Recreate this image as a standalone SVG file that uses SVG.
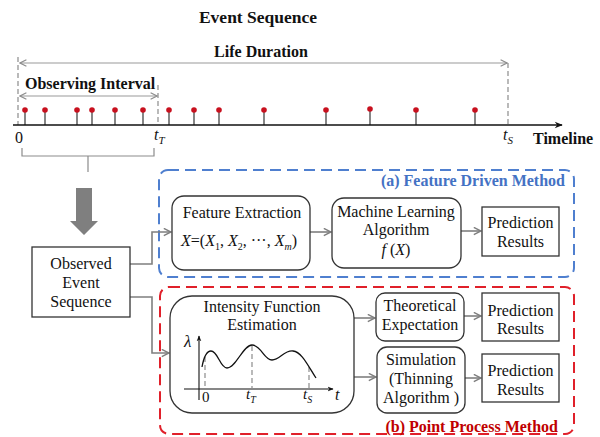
<svg xmlns="http://www.w3.org/2000/svg" width="600" height="437" viewBox="0 0 600 437">
  <defs>
    <marker id="chev" viewBox="0 0 10 10" refX="9" refY="5" markerWidth="8" markerHeight="8" markerUnits="userSpaceOnUse" orient="auto-start-reverse">
      <path d="M1,1 L9,5 L1,9" fill="none" stroke="#8c8c8c" stroke-width="1.4"/>
    </marker>
    <marker id="gch" viewBox="0 0 10 10" refX="9" refY="5" markerWidth="9" markerHeight="9" markerUnits="userSpaceOnUse" orient="auto">
      <path d="M1,1 L9,5 L1,9" fill="none" stroke="#7f7f7f" stroke-width="1.6"/>
    </marker>
    <marker id="blk" viewBox="0 0 10 10" refX="9" refY="5" markerWidth="9" markerHeight="8" markerUnits="userSpaceOnUse" orient="auto">
      <path d="M0,1 L10,5 L0,9 L3,5 Z" fill="#111"/>
    </marker>
    <marker id="blks" viewBox="0 0 10 10" refX="9" refY="5" markerWidth="6" markerHeight="6" markerUnits="userSpaceOnUse" orient="auto">
      <path d="M0,1 L10,5 L0,9 L3,5 Z" fill="#111"/>
    </marker>
  </defs>
  <style>
    text { font-family: "Liberation Serif", "Times New Roman", serif; fill: #111; }
    .b { font-weight: bold; font-size: 16px; }
    .t { font-size: 16px; text-anchor: middle; }
    .it { font-style: italic; }
    .box { fill: #fff; stroke: #333; stroke-width: 1.3; }
    .conn { fill: none; stroke: #7f7f7f; stroke-width: 1.6; marker-end: url(#gch); }
    .dash { fill: none; stroke: #8c8c8c; stroke-width: 1.2; stroke-dasharray: 5 3; }
    .stem { stroke: #222; stroke-width: 1.1; }
    .dot { fill: #c8101e; }
  </style>

  <!-- title -->
  <text class="b" x="258" y="23" text-anchor="middle" style="font-size:17.5px">Event Sequence</text>

  <!-- timeline panel -->
  <g id="timeline">
    <line class="dash" x1="18" y1="57" x2="18" y2="125"/>
    <line class="dash" x1="158" y1="85" x2="158" y2="125"/>
    <line class="dash" x1="508" y1="63" x2="508" y2="125"/>
    <line x1="20" y1="63" x2="507" y2="63" stroke="#9a9a9a" stroke-width="1.2" marker-start="url(#chev)" marker-end="url(#chev)"/>
    <line x1="20" y1="96" x2="157" y2="96" stroke="#9a9a9a" stroke-width="1.2" marker-start="url(#chev)" marker-end="url(#chev)"/>
    <text class="b" x="261" y="57" text-anchor="middle">Life Duration</text>
    <text class="b" x="25" y="89">Observing Interval</text>
    <g id="events">
      <line class="stem" x1="25" y1="110" x2="25" y2="125"/>
      <line class="stem" x1="45" y1="110" x2="45" y2="125"/>
      <line class="stem" x1="77" y1="110" x2="77" y2="125"/>
      <line class="stem" x1="92" y1="110" x2="92" y2="125"/>
      <line class="stem" x1="115" y1="110" x2="115" y2="125"/>
      <line class="stem" x1="143" y1="110" x2="143" y2="125"/>
      <line class="stem" x1="169" y1="110" x2="169" y2="125"/>
      <line class="stem" x1="194" y1="110" x2="194" y2="125"/>
      <line class="stem" x1="219" y1="110" x2="219" y2="125"/>
      <line class="stem" x1="264" y1="110" x2="264" y2="125"/>
      <line class="stem" x1="326" y1="110" x2="326" y2="125"/>
      <line class="stem" x1="370" y1="109" x2="370" y2="125"/>
      <line class="stem" x1="416" y1="110" x2="416" y2="125"/>
      <line class="stem" x1="475" y1="110" x2="475" y2="125"/>
      <circle class="dot" cx="25" cy="110" r="2.8"/>
      <circle class="dot" cx="45" cy="110" r="2.8"/>
      <circle class="dot" cx="77" cy="110" r="2.8"/>
      <circle class="dot" cx="92" cy="110" r="2.8"/>
      <circle class="dot" cx="115" cy="110" r="2.8"/>
      <circle class="dot" cx="143" cy="110" r="2.8"/>
      <circle class="dot" cx="169" cy="110" r="2.8"/>
      <circle class="dot" cx="194" cy="110" r="2.8"/>
      <circle class="dot" cx="219" cy="110" r="2.8"/>
      <circle class="dot" cx="264" cy="110" r="2.8"/>
      <circle class="dot" cx="326" cy="110" r="2.8"/>
      <circle class="dot" cx="370" cy="109" r="2.8"/>
      <circle class="dot" cx="416" cy="110" r="2.8"/>
      <circle class="dot" cx="475" cy="110" r="2.8"/>
    </g>
    <line x1="13" y1="125" x2="562" y2="125" stroke="#111" stroke-width="1.4" marker-end="url(#blk)"/>
    <text x="15" y="143" font-size="16">0</text>
    <text class="it" x="154" y="140" font-size="16">t<tspan font-size="11" dy="4">T</tspan></text>
    <text class="it" x="503" y="140" font-size="16">t<tspan font-size="11" dy="4">S</tspan></text>
    <text class="b" x="533" y="144">Timeline</text>
    <!-- observed part brace -->
    <path d="M22,148 V156 H154 V148 M88,156 V172" fill="none" stroke="#8c8c8c" stroke-width="1.2"/>
    <polygon points="76,188 92,188 92,221 98,221 84,235 70,221 76,221" fill="#7f7f7f"/>
  </g>

  <!-- method frames -->
  <g id="feature-driven">
    <rect x="159" y="170" width="415" height="107" rx="9" fill="none" stroke="#4f7fcf" stroke-width="2" stroke-dasharray="11 6"/>
    <text class="b" x="565" y="186" text-anchor="end" style="fill:#4472c4">(a) Feature Driven Method</text>
  </g>
  <g id="point-process">
    <rect x="160" y="287" width="414" height="147" rx="9" fill="none" stroke="#e0202a" stroke-width="2" stroke-dasharray="11 6"/>
    <text class="b" x="558" y="432" text-anchor="end" style="fill:#c00000">(b) Point Process Method</text>
  </g>

  <!-- connectors -->
  <g id="connectors">
    <path class="conn" d="M130,264 H152 V232 H171"/>
    <path class="conn" d="M130,297 H152 V353 H169"/>
    <path class="conn" d="M310,232 H331"/>
    <path class="conn" d="M461,231 H481"/>
    <path class="conn" d="M354,318 H375"/>
    <path class="conn" d="M354,377 H376"/>
    <path class="conn" d="M464,316 H481"/>
    <path class="conn" d="M465,378 H481"/>
  </g>

  <g id="observed">
    <rect class="box" x="32" y="247" width="98" height="70"/>
    <text class="t" x="81" y="269">Observed</text>
    <text class="t" x="81" y="288">Event</text>
    <text class="t" x="81" y="307">Sequence</text>
  </g>

  <g id="feature-extraction">
    <rect class="box" x="172" y="196" width="138" height="74" rx="12"/>
    <text class="t" x="242" y="218">Feature Extraction</text>
    <text x="181" y="246" font-size="16"><tspan class="it">X</tspan>=(<tspan class="it">X</tspan><tspan font-size="10" dy="4">1</tspan><tspan dy="-4">, </tspan><tspan class="it">X</tspan><tspan font-size="10" dy="4">2</tspan><tspan dy="-4">, ···, </tspan><tspan class="it">X</tspan><tspan class="it" font-size="10" dy="4">m</tspan><tspan dy="-4">)</tspan></text>
  </g>

  <g id="ml-algorithm">
    <rect class="box" x="332" y="198" width="129" height="70" rx="12"/>
    <text class="t" x="396" y="217">Machine Learning</text>
    <text class="t" x="396" y="235">Algorithm</text>
    <text class="t" x="396" y="255"><tspan class="it">f</tspan> (<tspan class="it">X</tspan>)</text>
  </g>

  <g id="prediction-a">
    <rect class="box" x="482" y="207" width="77" height="49"/>
    <text class="t" x="520.5" y="228">Prediction</text>
    <text class="t" x="520.5" y="247">Results</text>
  </g>

  <g id="intensity">
    <rect class="box" x="170" y="296" width="184" height="117" rx="22"/>
    <text class="t" x="262" y="312">Intensity Function</text>
    <text class="t" x="262" y="330">Estimation</text>
    <line x1="199" y1="400" x2="199" y2="336" stroke="#111" stroke-width="1.1" marker-end="url(#blks)"/>
    <line x1="184" y1="389" x2="333" y2="389" stroke="#111" stroke-width="1.1" marker-end="url(#blks)"/>
    <line class="dash" x1="205" y1="357" x2="205" y2="389"/>
    <line class="dash" x1="252" y1="346" x2="252" y2="389"/>
    <line class="dash" x1="309" y1="367" x2="309" y2="389"/>
    <path d="M202,367 C204,356 207,351 211,351 C218,351 220,368 227,368 C236,368 243,345 252,345 C261,345 264,360 272,360 C280,360 284,350 293,351 C302,352 308,366 316,378" fill="none" stroke="#111" stroke-width="1.3"/>
    <text class="it" x="184" y="347" font-size="17">λ</text>
    <text x="202" y="402" font-size="15">0</text>
    <text class="it" x="246" y="399" font-size="15">t<tspan font-size="10" dy="4">T</tspan></text>
    <text class="it" x="303" y="399" font-size="15">t<tspan font-size="10" dy="4">S</tspan></text>
    <text class="it" x="335" y="400" font-size="16">t</text>
  </g>

  <g id="theoretical">
    <rect class="box" x="376" y="293" width="88" height="48" rx="9"/>
    <text class="t" x="420" y="311">Theoretical</text>
    <text class="t" x="420" y="330">Expectation</text>
  </g>

  <g id="simulation">
    <rect class="box" x="377" y="347" width="88" height="66" rx="10"/>
    <text class="t" x="421" y="365">Simulation</text>
    <text class="t" x="421" y="384">(Thinning</text>
    <text class="t" x="421" y="403">Algorithm )</text>
  </g>

  <g id="prediction-b1">
    <rect class="box" x="482" y="293" width="77" height="48"/>
    <text class="t" x="520.5" y="316">Prediction</text>
    <text class="t" x="520.5" y="334">Results</text>
  </g>

  <g id="prediction-b2">
    <rect class="box" x="482" y="354" width="77" height="48"/>
    <text class="t" x="520.5" y="376">Prediction</text>
    <text class="t" x="520.5" y="395">Results</text>
  </g>
</svg>
